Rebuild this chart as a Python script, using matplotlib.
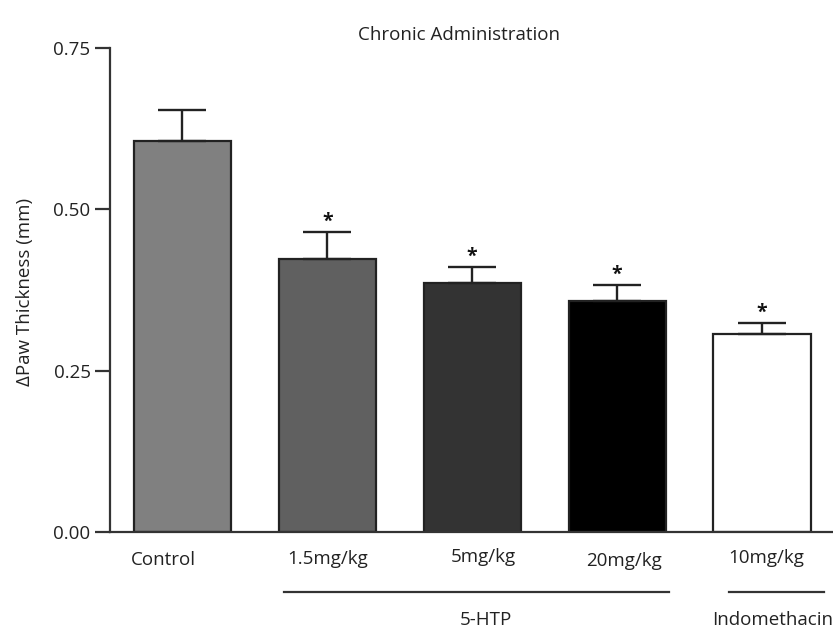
import matplotlib
matplotlib.use("Agg")
import matplotlib.pyplot as plt
import matplotlib.transforms as mtransforms
import numpy as np

plt.rcParams["font.family"] = ["Open Sans", "DejaVu Sans"]

# data
groups = ["Control", "1.5mg/kg", "5mg/kg", "20mg/kg", "10mg/kg"]
means = [0.606, 0.423, 0.386, 0.357, 0.307]
sem = [0.047, 0.041, 0.024, 0.025, 0.017]
significant = [False, True, True, True, True]
bar_colors = ["#808080", "#606060", "#333333", "#000000", "#ffffff"]
yticks = [0.00, 0.25, 0.50, 0.75]

# treatment brackets below the x labels
bracket_names = ["5-HTP", "Indomethacin"]
bracket_spans = [(0.70, 3.357), (3.77, 4.43)]
bracket_label_x = [2.095, 4.075]

fig = plt.figure(figsize=(8.33, 6.42), dpi=100)
ax = fig.add_axes([0.132, 0.171, 0.868, 0.755])

x = np.arange(len(groups))
edge = "#222222"
ax.bar(x, means, width=0.67, color=bar_colors, edgecolor=edge, linewidth=1.6, zorder=2)
ax.errorbar(
    x,
    means,
    yerr=[np.zeros(len(sem)), sem],
    fmt="none",
    ecolor=edge,
    elinewidth=1.7,
    capsize=17,
    capthick=1.7,
    zorder=3,
)

for xi, m, s, sig in zip(x, means, sem, significant):
    if sig:
        ax.text(xi, m + s + 0.016, "*", ha="center", va="center",
                fontsize=14, fontweight="bold", color="#111111")

ax.set_xlim(-0.5, 4.49)
ax.set_ylim(0, 0.75)
ax.set_yticks(yticks)
ax.set_yticklabels([f"{t:.2f}" for t in yticks], fontsize=13.5, color="#222222")
ax.tick_params(axis="y", length=11, width=1.6, color="#333333", pad=3)

# x labels sit a little off the bar centres in the original
label_dx = [-0.13, 0.0, 0.08, 0.05, 0.03]
label_y = [-0.058, -0.055, -0.051, -0.059, -0.053]
ax.set_xticks([])
trans = mtransforms.blended_transform_factory(ax.transData, ax.transAxes)
for xi, lab, dx, dy in zip(x, groups, label_dx, label_y):
    ax.text(xi + dx, dy, lab, transform=trans, ha="center", va="center",
            fontsize=13.5, color="#222222")

for name, (x0, x1), lx in zip(bracket_names, bracket_spans, bracket_label_x):
    ax.plot([x0, x1], [-0.1226, -0.1226], transform=trans, color="#333333",
            linewidth=1.6, clip_on=False)
    ax.text(lx, -0.181, name, transform=trans, ha="center",
            va="center", fontsize=13.5, color="#222222")

for side in ["top", "right"]:
    ax.spines[side].set_visible(False)
ax.spines["left"].set_linewidth(1.6)
ax.spines["left"].set_color("#333333")
ax.spines["bottom"].set_linewidth(1.6)
ax.spines["bottom"].set_color("#333333")

fig.text(459 / 833, 1 - 35 / 642, "Chronic Administration", ha="center",
         va="center", fontsize=13.5, color="#222222")
fig.text(25 / 833, 1 - 292 / 642, "\u0394Paw Thickness (mm)", rotation=90,
         ha="center", va="center", fontsize=13.5, color="#222222")

fig.savefig("out.png", dpi=100)
